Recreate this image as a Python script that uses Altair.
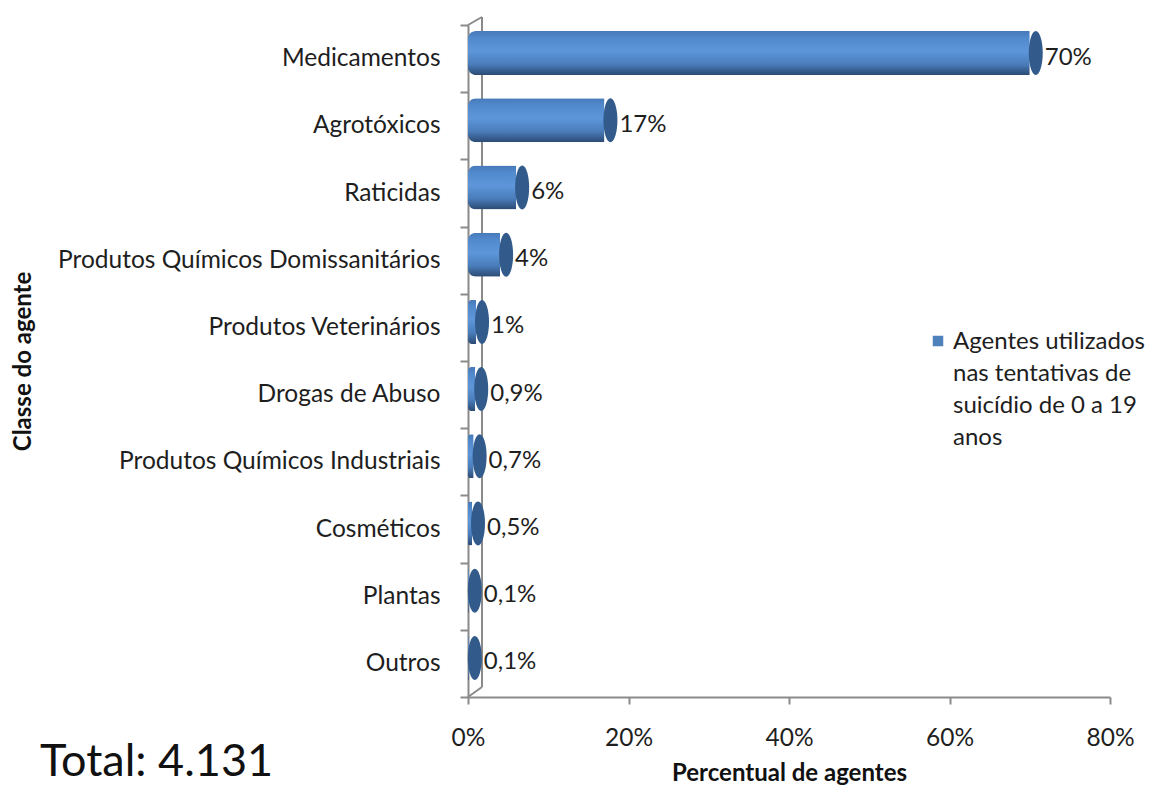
import altair as alt
import pandas as pd

categories = ["Medicamentos", "Agrotóxicos", "Raticidas",
              "Produtos Químicos Domissanitários", "Produtos Veterinários",
              "Drogas de Abuso", "Produtos Químicos Industriais",
              "Cosméticos", "Plantas", "Outros"]
values = [70, 17, 6, 4, 1, 0.9, 0.7, 0.5, 0.1, 0.1]
value_labels = ["70%", "17%", "6%", "4%", "1%", "0,9%", "0,7%", "0,5%", "0,1%", "0,1%"]
x_ticks = [0, 20, 40, 60, 80]
series_name = "Agentes utilizados\nnas tentativas de\nsuicídio de 0 a 19\nanos"
total_text = "Total: 4.131"

df = pd.DataFrame({"cat": categories, "val": values, "lab": value_labels})
one = pd.DataFrame({"k": [0]})

FONT = "Lato"
W, H = 642, 672
GRAY = "#8a8a8a"
TXT = "#1e1e1e"
LBL = 24.5

xs = alt.Scale(domain=[0, 80], nice=False)
xenc = alt.X("val:Q", scale=xs,
             axis=alt.Axis(values=x_ticks, labelExpr="datum.value + '%'",
                           title="Percentual de agentes", grid=False,
                           labelFontSize=LBL, labelColor=TXT, labelPadding=22,
                           labelFlush=False, labelFontWeight="normal",
                           tickSize=7, tickWidth=2, tickColor=GRAY,
                           domainColor=GRAY, domainWidth=2,
                           titleFontSize=24, titleFontWeight="bold",
                           titleColor="#111111", titlePadding=12))
yenc = alt.Y("cat:N", sort=categories,
             scale=alt.Scale(paddingInner=0, paddingOuter=0),
             axis=alt.Axis(title="Classe do agente", labelFontSize=LBL,
                           labelColor=TXT, labelPadding=20, labelLimit=0,
                           labelFontWeight="normal",
                           tickSize=8, tickWidth=2, tickColor=GRAY,
                           tickBand="extent", domainColor=GRAY, domainWidth=2,
                           titleFontSize=24, titleFontWeight="bold",
                           titleColor="#111111", titleAngle=270,
                           titleX=-445, titleY=H / 2, titleAlign="center",
                           titleBaseline="middle"))

base = alt.Chart(df)
single = alt.Chart(one)

# back wall lines (3D frame)
wall = single.mark_rule(color=GRAY, strokeWidth=2).encode(
    x=alt.value(14), y=alt.value(-8), y2=alt.value(H - 10))
diag_top = single.mark_rule(color=GRAY, strokeWidth=2).encode(
    x=alt.value(0), x2=alt.value(14), y=alt.value(0), y2=alt.value(-8))
diag_bot = single.mark_rule(color=GRAY, strokeWidth=2).encode(
    x=alt.value(0), x2=alt.value(14), y=alt.value(H), y2=alt.value(H - 10))

grad = alt.Gradient(
    gradient="linear", x1=0, x2=0, y1=0, y2=1,
    stops=[alt.GradientStop(color="#4779b8", offset=0),
           alt.GradientStop(color="#5089cc", offset=0.15),
           alt.GradientStop(color="#5d97da", offset=0.45),
           alt.GradientStop(color="#4a7dbb", offset=0.75),
           alt.GradientStop(color="#2b4a73", offset=1)])

bars = base.mark_bar(size=44, yOffset=-5.5, color=grad,
                     cornerRadiusTopLeft=8, cornerRadiusBottomLeft=8).encode(
    x=xenc, y=yenc)

ellipse = ("M0,-1 C0.1757,-1 0.318,-0.5523 0.318,0 C0.318,0.5523 0.1757,1 0,1 "
           "C-0.1757,1 -0.318,0.5523 -0.318,0 C-0.318,-0.5523 -0.1757,-1 0,-1 Z")
caps = base.mark_point(shape=ellipse, size=44 * 44, filled=True, opacity=1,
                       color="#325b8c", strokeWidth=0,
                       xOffset=6, yOffset=-5.5).encode(
    x=alt.X("val:Q", scale=xs), y=alt.Y("cat:N", sort=categories))

texts = base.mark_text(align="left", baseline="middle", dx=15, dy=-1,
                       fontSize=24, fontWeight="normal", color=TXT,
                       font=FONT).encode(
    x=alt.X("val:Q", scale=xs), y=alt.Y("cat:N", sort=categories),
    text="lab:N")

leg_sym = single.mark_square(size=110, color="#4f81bd", opacity=1).encode(
    x=alt.value(470), y=alt.value(316))
leg_txt = single.mark_text(align="left", baseline="alphabetic", lineBreak="\n",
                           lineHeight=32, fontSize=24, fontWeight="normal",
                           color=TXT, font=FONT).encode(
    x=alt.value(485), y=alt.value(324), text=alt.value(series_name))

total = single.mark_text(align="left", baseline="alphabetic", fontSize=45,
                         fontWeight="normal", color="#111111", font=FONT).encode(
    x=alt.value(-428), y=alt.value(751), text=alt.value(total_text))

chart = alt.layer(wall, diag_top, diag_bot, bars, caps, texts,
                  leg_sym, leg_txt, total).properties(
    width=W, height=H,
    autosize=alt.AutoSizeParams(type="none"),
    padding={"left": 460, "top": 17, "right": 41, "bottom": 89},
).configure(font=FONT).configure_view(stroke=None)

chart.save("out.html", embed_options={"renderer": "svg", "actions": False})
